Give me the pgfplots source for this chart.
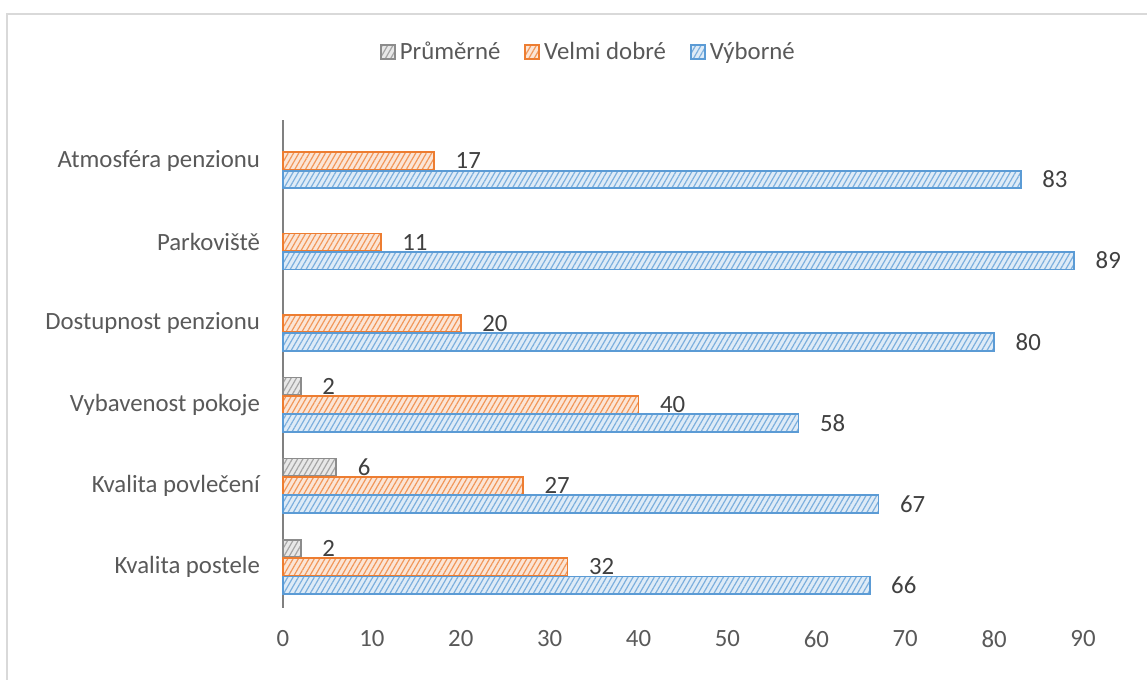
\documentclass[border=0pt]{standalone}
\usepackage{fontspec}
\setmainfont{Carlito}
\usepackage{pgfplots}
\pgfplotsset{compat=1.18}
\usetikzlibrary{patterns.meta}
\definecolor{cgrey}{HTML}{A5A5A5}
\definecolor{cgreyd}{HTML}{8C8C8C}
\definecolor{corange}{HTML}{ED7D31}
\definecolor{cblue}{HTML}{5B9BD5}
\definecolor{ctext}{HTML}{595959}
\definecolor{clabel}{HTML}{404040}
\definecolor{cframe}{HTML}{D9D9D9}
\begin{document}
\begin{tikzpicture}
\useasboundingbox (0,0) rectangle (573.5pt,340pt);
\draw[cframe, line width=1pt] (3.5pt,0) -- (3.5pt,333pt) -- (573.5pt,333pt);
\begin{axis}[
  at={(141.5pt,36.2pt)}, anchor=south west,
  scale only axis, width=400pt, height=243.6pt,
  xbar, bar width=8.8pt,
  xmin=0, xmax=90, ymin=-0.5, ymax=5.5,
  xtick={0,10,...,90},
  ytick={0,...,5},
  yticklabels={Kvalita postele, Kvalita povlečení, Vybavenost pokoje, Dostupnost penzionu, Parkoviště, Atmosféra penzionu},
  axis x line*=bottom, axis y line*=left,
  x axis line style={draw=none},
  y axis line style={draw=gray, line width=1.3pt},
  major tick length=0pt,
  tick label style={font=\fontsize{12.4}{14}\selectfont, text=ctext},
  xticklabel style={yshift=-8pt},
  yticklabel style={xshift=-8pt},
  /pgf/number format/assume math mode=true,
  clip=false,
  nodes near coords,
  every node near coord/.append style={font=\fontsize{12.4}{14}\selectfont, text=clabel, xshift=7pt},
  legend style={at={(axis description cs:0.383,1.14)}, anchor=center, draw=none, fill=none,
    font=\fontsize{12.4}{14}\selectfont, text=ctext, /tikz/every even column/.append style={column sep=10pt}},
  legend columns=3,
  legend image code/.code={\draw[#1] (0pt,-3.5pt) rectangle (7pt,3.5pt);},
]
\addplot[bar shift=9.2pt, draw=cgreyd, line width=0.9pt, fill=cgrey!25,
  postaction={pattern={Lines[angle=60,distance=2.3pt,line width=0.6pt]}, pattern color=cgrey}]
  coordinates {(2,0) (6,1) (2,2)};
\addplot[bar shift=0pt, draw=corange, line width=0.9pt, fill=corange!20,
  postaction={pattern={Lines[angle=60,distance=2.3pt,line width=0.6pt]}, pattern color=corange!80}]
  coordinates {(32,0) (27,1) (40,2) (20,3) (11,4) (17,5)};
\addplot[bar shift=-9.2pt, draw=cblue, line width=0.9pt, fill=cblue!20,
  postaction={pattern={Lines[angle=60,distance=2.3pt,line width=0.6pt]}, pattern color=cblue!80}]
  coordinates {(66,0) (67,1) (58,2) (80,3) (89,4) (83,5)};
\legend{Průměrné, Velmi dobré, Výborné}
\end{axis}
\end{tikzpicture}
\end{document}
